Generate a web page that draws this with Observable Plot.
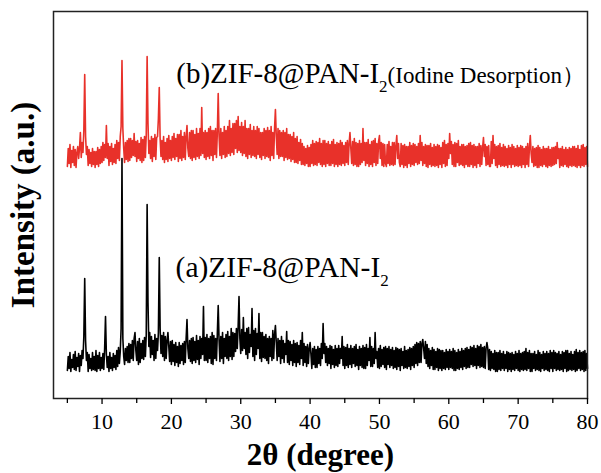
<!DOCTYPE html>
<html><head><meta charset="utf-8">
<script src="https://cdn.jsdelivr.net/npm/d3@7"></script>
<script src="https://cdn.jsdelivr.net/npm/@observablehq/plot@0.6"></script>
<style>
body{margin:0;background:#fff}
#chart svg, #chart svg text{font-family: "Liberation Serif", "Times New Roman", serif !important;}
</style>
</head><body><div id="chart"></div>
<script>
// 2θ grid: 5° to 80° in 0.125° steps (8 values per degree)
const thetaStart = 5, thetaStep = 0.125;

// (a) ZIF-8@PAN-I2 (black), intensity in arbitrary units
const intensityA = [
28,42,30,46,27,39,31,44, 29,47,28,41,32,45,27,43, 33,48,40,62,120,58,38,46,
27,44,30,40,28,46,29,42, 28,48,27,43,30,46,28,41, 30,45,29,50,82,44,31,42,
27,46,30,41,28,45,31,43, 29,48,32,51,35,47,70,240, 60,42,34,50,38,52,36,55,
36,54,40,58,38,60,66,48, 38,57,34,60,36,55,40,58, 39,61,42,64,194,96,52,66,
41,62,44,58,38,64,40,60, 48,66,141,70,45,63,42,66, 38,62,40,58,66,52,37,57,
34,58,37,54,33,56,36,52, 32,56,35,53,38,55,34,57, 36,60,79,50,40,58,37,60,
35,61,38,57,36,63,39,58, 34,62,40,60,44,92,38,61, 38,64,36,60,40,62,35,66,
34,63,40,60,38,65,93,58, 37,62,40,66,35,60,42,64, 40,67,38,62,42,70,39,66,
42,65,47,70,50,72,102,60, 45,69,48,81,50,66,44,70, 40,71,46,64,52,90,42,68,
38,70,44,65,50,85,40,66, 37,66,41,62,40,64,38,60, 35,62,42,60,38,68,40,64,
73,56,38,60,42,58,35,62, 40,58,36,55,44,67,36,58, 34,57,38,54,33,58,36,55,
32,56,36,53,34,58,40,66, 33,55,36,52,32,54,35,50, 56,44,30,50,34,52,31,49,
31,52,35,50,33,55,40,75, 45,55,36,52,33,50,35,53, 30,52,34,49,31,53,33,50,
32,53,35,50,40,62,33,52, 30,51,33,54,31,50,34,53, 31,50,35,52,32,54,33,49,
29,52,33,50,31,53,30,51, 30,54,33,50,38,61,32,52, 32,50,35,66,40,47,31,50,
30,53,32,49,34,51,31,52, 29,50,34,52,31,49,33,51, 30,48,31,51,29,50,32,49,
28,50,33,47,30,52,31,48, 30,49,32,51,29,50,33,52, 31,54,35,56,33,55,36,57,
36,55,59,50,40,57,35,54, 32,50,30,48,33,51,29,49, 29,47,31,50,28,49,30,48,
28,48,30,46,29,49,31,47, 29,49,31,47,30,50,28,48, 28,46,30,49,29,47,31,50,
29,48,32,50,30,51,31,49, 31,52,34,51,32,53,33,50, 30,53,33,52,31,54,32,51,
31,52,30,50,56,50,29,49, 28,47,30,45,29,48,27,46, 27,46,29,48,28,45,30,47,
28,44,30,47,27,46,29,45, 27,46,29,44,28,47,30,45, 28,48,27,45,29,46,28,47,
29,50,28,46,30,48,27,45, 27,45,30,47,28,44,29,48, 28,46,27,44,30,47,28,45,
29,47,28,45,27,48,30,46, 27,48,30,46,28,45,29,47, 28,44,29,47,27,46,30,48,
27,48,28,45,29,47,28,44, 29,47,27,49,28,46,30,48, 28,46,29,47,27,48,28,45,
30
];

// (b) ZIF-8@PAN-I2 after iodine desorption (red), intensity in arbitrary units
const intensityB = [
232,250,235,254,231,248,236,252, 233,249,231,246,252,240,250,266, 241,256,246,268,324,262,244,252,
233,249,235,246,232,250,234,247, 231,247,234,251,232,249,235,252, 236,256,238,254,241,273,240,255,
233,252,237,255,234,250,236,254, 235,258,240,256,238,262,272,338, 270,250,236,256,239,258,237,260,
238,260,241,258,243,265,242,257, 237,258,240,255,238,261,236,259, 238,262,241,264,342,275,245,258,
240,262,237,260,242,264,239,261, 262,280,311,260,242,258,239,262, 236,256,239,260,237,263,240,258,
238,262,241,265,239,260,242,264, 237,264,240,268,238,262,241,266, 239,262,273,250,242,266,240,268,
238,268,241,264,239,270,242,265, 240,270,243,291,245,266,241,268, 239,266,242,270,240,272,243,268,
238,268,244,270,241,266,305,262, 243,270,240,266,244,272,241,268, 242,272,245,278,243,270,246,275,
244,275,250,278,246,282,248,272, 246,276,243,272,245,278,242,270, 240,270,244,274,241,268,243,272,
242,268,240,272,244,270,241,266, 239,266,243,270,240,268,242,271, 241,268,238,272,243,266,240,270,
289,262,244,270,240,268,242,266, 242,268,238,266,241,270,239,264, 240,264,237,262,239,266,236,260,
236,262,235,256,238,259,234,255, 234,252,233,250,235,253,232,251, 232,254,235,258,233,255,234,257,
233,256,236,260,234,255,232,258, 234,258,232,255,235,257,233,254, 233,257,235,259,232,254,234,256,
232,255,234,258,233,256,235,253, 233,256,236,258,234,255,266,250, 235,257,233,260,234,256,232,255,
232,258,234,255,236,270,238,256, 233,256,235,259,232,254,234,257, 232,258,236,260,233,255,235,257,
263,240,256,233,255,232,254,235, 232,254,235,257,233,252,234,256, 233,256,234,253,263,240,255,236,
232,255,234,253,231,254,233,252, 231,252,235,256,232,253,234,255, 233,254,236,252,234,255,235,263,
238,256,233,252,235,254,232,253, 231,253,234,255,232,251,233,254, 232,252,233,254,231,253,234,251,
231,256,235,258,232,254,233,255, 240,265,245,257,234,254,232,256, 232,255,236,258,233,252,234,254,
233,254,231,252,234,253,232,255, 232,256,234,253,231,254,233,252, 231,252,235,255,232,253,234,251,
261,242,254,233,252,234,253,232, 232,257,235,263,240,254,233,252, 231,253,234,255,232,251,233,254,
232,252,233,250,231,253,234,251, 231,254,234,252,232,250,233,253, 232,251,233,253,231,252,234,250,
231,252,234,255,232,251,263,245, 236,252,232,250,233,251,231,253, 231,251,233,249,232,252,234,250,
232,250,231,252,233,249,232,251, 233,251,234,252,235,256,240,250, 231,250,233,252,232,249,234,251,
232,249,231,251,233,250,232,252, 233,252,232,250,231,253,233,249, 231,253,233,254,232,251,234,252,
232
];

const majorTicks = [10, 20, 30, 40, 50, 60, 70, 80];
const minorTicks = [5, 15, 25, 35, 45, 55, 65, 75];
const xTitle = "2θ (degree)";
const yTitle = "Intensity (a.u.)";
const labelA = ["(a)ZIF-8@PAN-I", "2", ""];
const labelB = ["(b)ZIF-8@PAN-I", "2", "(Iodine Desorption）"];

const rowsA = intensityA.map((v, i) => ({t: thetaStart + i * thetaStep, v}));
const rowsB = intensityB.map((v, i) => ({t: thetaStart + i * thetaStep, v}));

const red = "#e8312a";

const chart = Plot.plot({
  width: 601, height: 473,
  marginLeft: 53, marginRight: 14, marginTop: 11, marginBottom: 75,
  style: {fontSize: "22px", color: "#000", background: "#fff", overflow: "visible"},
  x: {domain: [3, 80]},
  y: {domain: [0, 387], axis: null},
  marks: [
    Plot.line(rowsA, {x: "t", y: "v", stroke: "#000", strokeWidth: 1.6}),
    Plot.line(rowsB, {x: "t", y: "v", stroke: red, strokeWidth: 1.6}),
    Plot.frame({stroke: "#222", strokeWidth: 1.5}),
    Plot.axisX(majorTicks, {tickSize: 6, tickPadding: 9, label: null, fontSize: 22, strokeWidth: 1.3}),
    Plot.axisX(minorTicks, {tickSize: 5, tickFormat: () => "", label: null, strokeWidth: 1.3}),
    Plot.text([xTitle], {text: d => d, frameAnchor: "bottom", lineAnchor: "middle", dy: 57, fontSize: 31, fontWeight: "bold"}),
    Plot.text([yTitle], {text: d => d, frameAnchor: "left", textAnchor: "middle", lineAnchor: "middle", dx: -30, rotate: -90, fontSize: 33, fontWeight: "bold"}),
    Plot.text([labelB], {text: d => d.join(""), x: 20.7, y: 325, textAnchor: "start", fontSize: 29}),
    Plot.text([labelA], {text: d => d.join(""), x: 20.6, y: 131, textAnchor: "start", fontSize: 29.5})
  ]
});

// rebuild the two annotation texts with subscript tspans
const NS = "http://www.w3.org/2000/svg";
chart.querySelectorAll("text").forEach(t => {
  for (const parts of [labelA, labelB]) {
    if (t.textContent === parts.join("")) {
      t.textContent = "";
      const s1 = document.createElementNS(NS, "tspan"); s1.textContent = parts[0];
      const s2 = document.createElementNS(NS, "tspan"); s2.textContent = parts[1];
      s2.setAttribute("font-size", "17"); s2.setAttribute("dy", "9");
      t.appendChild(s1); t.appendChild(s2);
      if (parts[2]) {
        const s3 = document.createElementNS(NS, "tspan"); s3.textContent = parts[2];
        s3.setAttribute("font-size", "23"); s3.setAttribute("dy", "-9");
        t.appendChild(s3);
      }
    }
  }
});
document.getElementById("chart").appendChild(chart);
</script>
</body></html>
